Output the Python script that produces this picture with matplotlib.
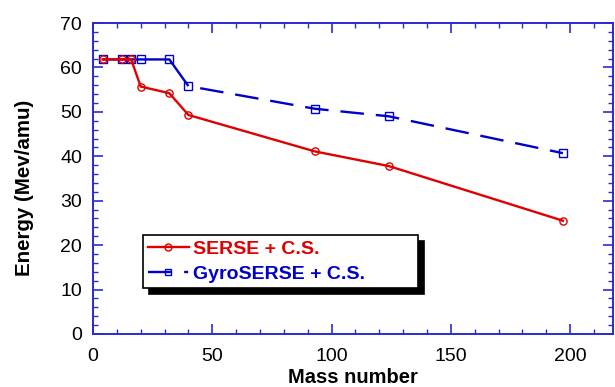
import matplotlib
matplotlib.use("Agg")
import matplotlib.pyplot as plt
from matplotlib.lines import Line2D
from matplotlib.ticker import MultipleLocator

plt.rcParams['font.family'] = ['Liberation Sans', 'DejaVu Sans']
plt.rcParams['lines.scale_dashes'] = False

mass = [4, 12, 16, 20, 32, 40, 93, 124, 197]
serse = [61.8, 61.8, 61.8, 55.7, 54.2, 49.3, 41.1, 37.8, 25.5]
gyro = [61.8, 61.8, 61.8, 61.8, 61.8, 55.8, 50.7, 49.0, 40.7]
labels = ["SERSE + C.S.", "GyroSERSE + C.S."]

red = '#e00000'
blue = '#0000cc'
axcol = '#2a2ad8'

fig = plt.figure(figsize=(6.15, 3.87), dpi=100)
ax = fig.add_axes([93/615, 1-334/387, 520/615, 311/387])

split = mass.index(40) + 1
# GyroSERSE: solid up to Ar, dashed afterwards
ax.plot(mass[:split], gyro[:split], color=blue, lw=1.7, solid_capstyle='butt')
ax.plot(mass[split-1:], gyro[split-1:], color=blue, lw=1.7,
        linestyle=(17, (17, 8.6)), dash_capstyle='butt')
ax.plot(mass, gyro, linestyle='none', marker='s', ms=5.2, mfc='none',
        mec=blue, mew=1.0)
ax.plot(mass, serse, color=red, lw=1.7, marker='o', ms=5.2, mfc='none',
        mec=red, mew=1.0)

ax.set_xlim(0, 218)
ax.set_ylim(0, 70)
ax.xaxis.set_major_locator(MultipleLocator(50))
ax.xaxis.set_minor_locator(MultipleLocator(10))
ax.yaxis.set_major_locator(MultipleLocator(10))
ax.yaxis.set_minor_locator(MultipleLocator(2))
ax.tick_params(which='both', direction='in', top=True, right=True,
               color=axcol, labelsize=14, labelcolor='black')
ax.tick_params(which='major', length=7, width=1.2)
ax.tick_params(which='minor', length=3.5, width=1.0)
ax.tick_params(axis='x', pad=10)
ax.tick_params(axis='y', pad=8)
for s in ax.spines.values():
    s.set_color(axcol)
    s.set_linewidth(1.4)

ax.set_xlabel('Mass number', fontsize=14.5, fontweight='bold', labelpad=2)
ax.set_ylabel('Energy (Mev/amu)', fontsize=14.8, fontweight='bold')
ax.yaxis.set_label_coords(-0.113, 0.47)

h_red = Line2D([], [], color=red, lw=1.7, marker='o', ms=5, mfc='none',
               mec=red, mew=1.0)
h_blue = Line2D([], [], color=blue, lw=1.7, marker='s', ms=5, mfc='none',
                mec=blue, mew=1.0, linestyle=(0, (16.6, 9.4, 2.9, 20)))
leg = ax.legend([h_red, h_blue], labels, loc='lower left', mode='expand',
                bbox_to_anchor=((143-93)/520, (334-288)/311, 275/520, 58/311),
                borderaxespad=0,
                prop={'weight': 'bold', 'size': 14}, handlelength=2.1,
                handletextpad=0.2, borderpad=0.25, labelspacing=0.4,
                frameon=True, fancybox=False,
                shadow={'color': 'black', 'alpha': 1, 'ox': 4, 'oy': -4})
leg.get_frame().set_edgecolor('black')
leg.get_frame().set_linewidth(1.2)
for t, c in zip(leg.get_texts(), [red, blue]):
    t.set_color(c)

fig.savefig('out.png', dpi=100)
